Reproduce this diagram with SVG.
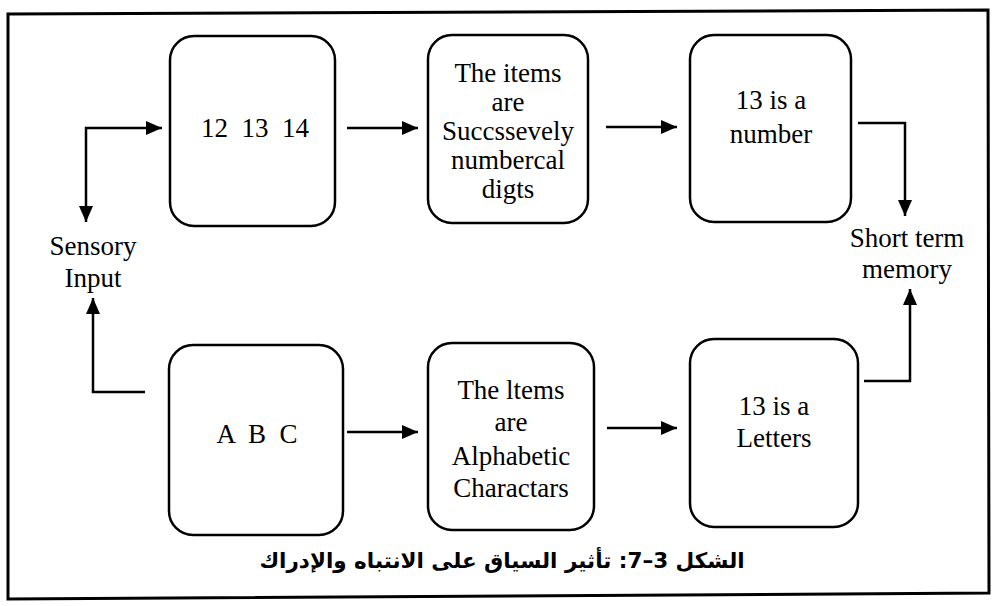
<svg xmlns="http://www.w3.org/2000/svg" width="993" height="606" viewBox="0 0 993 606">
<style>
.box{fill:#fff;stroke:#000;stroke-width:2.5}
.t{font-family:"Liberation Serif","Times New Roman",serif;font-size:27px;fill:#000;text-anchor:middle}
.c{fill:none;stroke:#000;stroke-width:2.5}
.cap{font-family:"DejaVu Sans",sans-serif;font-size:21.5px;font-weight:bold;fill:#000;text-anchor:middle}
</style>
<defs>
<marker id="ah" markerUnits="userSpaceOnUse" markerWidth="17" markerHeight="15" refX="16" refY="7" orient="auto-start-reverse" viewBox="0 0 17 14">
<path d="M0,0 L16,7 L0,14 Z" fill="#000"/>
</marker>
</defs>
<rect width="993" height="606" fill="#fff"/>
<path id="frame" d="M8,14 L988,10 L989,593 L8,599 Z" fill="none" stroke="#000" stroke-width="3"/>
<g id="connectors">
<path class="c" d="M86,222 V128 H162" marker-start="url(#ah)" marker-end="url(#ah)"/>
<path class="c" d="M347,128 H418" marker-end="url(#ah)"/>
<path class="c" d="M606,127 H677" marker-end="url(#ah)"/>
<path class="c" d="M858,123 H905 V216" marker-end="url(#ah)"/>
<path class="c" d="M145,392 H93 V298" marker-end="url(#ah)"/>
<path class="c" d="M347,432 H418" marker-end="url(#ah)"/>
<path class="c" d="M607,428 H677" marker-end="url(#ah)"/>
<path class="c" d="M864,381 H910 V289" marker-end="url(#ah)"/>
</g>
<g id="n1">
<rect class="box" x="170" y="36" width="165" height="190" rx="24"/>
<text class="t" x="255" y="137" xml:space="preserve">12  13  14</text>
</g>
<g id="n2">
<rect class="box" x="428" y="35" width="160" height="188" rx="24"/>
<text class="t" x="508" y="82">The items</text>
<text class="t" x="508" y="111">are</text>
<text class="t" x="508" y="140">Succssevely</text>
<text class="t" x="508" y="169">numbercal</text>
<text class="t" x="508" y="198">digts</text>
</g>
<g id="n3">
<rect class="box" x="690" y="35" width="161" height="187" rx="24"/>
<text class="t" x="771" y="109">13 is a</text>
<text class="t" x="771" y="143">number</text>
</g>
<g id="n4">
<rect class="box" x="169" y="345" width="174" height="190" rx="24"/>
<text class="t" x="257" y="443" xml:space="preserve">A  B  C</text>
</g>
<g id="n5">
<rect class="box" x="428" y="343" width="166" height="187" rx="24"/>
<text class="t" x="511" y="399">The ltems</text>
<text class="t" x="511" y="431">are</text>
<text class="t" x="511" y="465">Alphabetic</text>
<text class="t" x="511" y="497">Charactars</text>
</g>
<g id="n6">
<rect class="box" x="690" y="339" width="168" height="188" rx="24"/>
<text class="t" x="774" y="415">13 is a</text>
<text class="t" x="774" y="447">Letters</text>
</g>
<g id="sensory">
<text class="t" x="93" y="255">Sensory</text>
<text class="t" x="93" y="287">Input</text>
</g>
<g id="stm">
<text class="t" x="907" y="247">Short term</text>
<text class="t" x="907" y="278">memory</text>
</g>
<text class="cap" x="502" y="568" direction="rtl" style="text-anchor:middle">الشكل 3–7: تأثير السياق على الانتباه والإدراك</text>
</svg>
